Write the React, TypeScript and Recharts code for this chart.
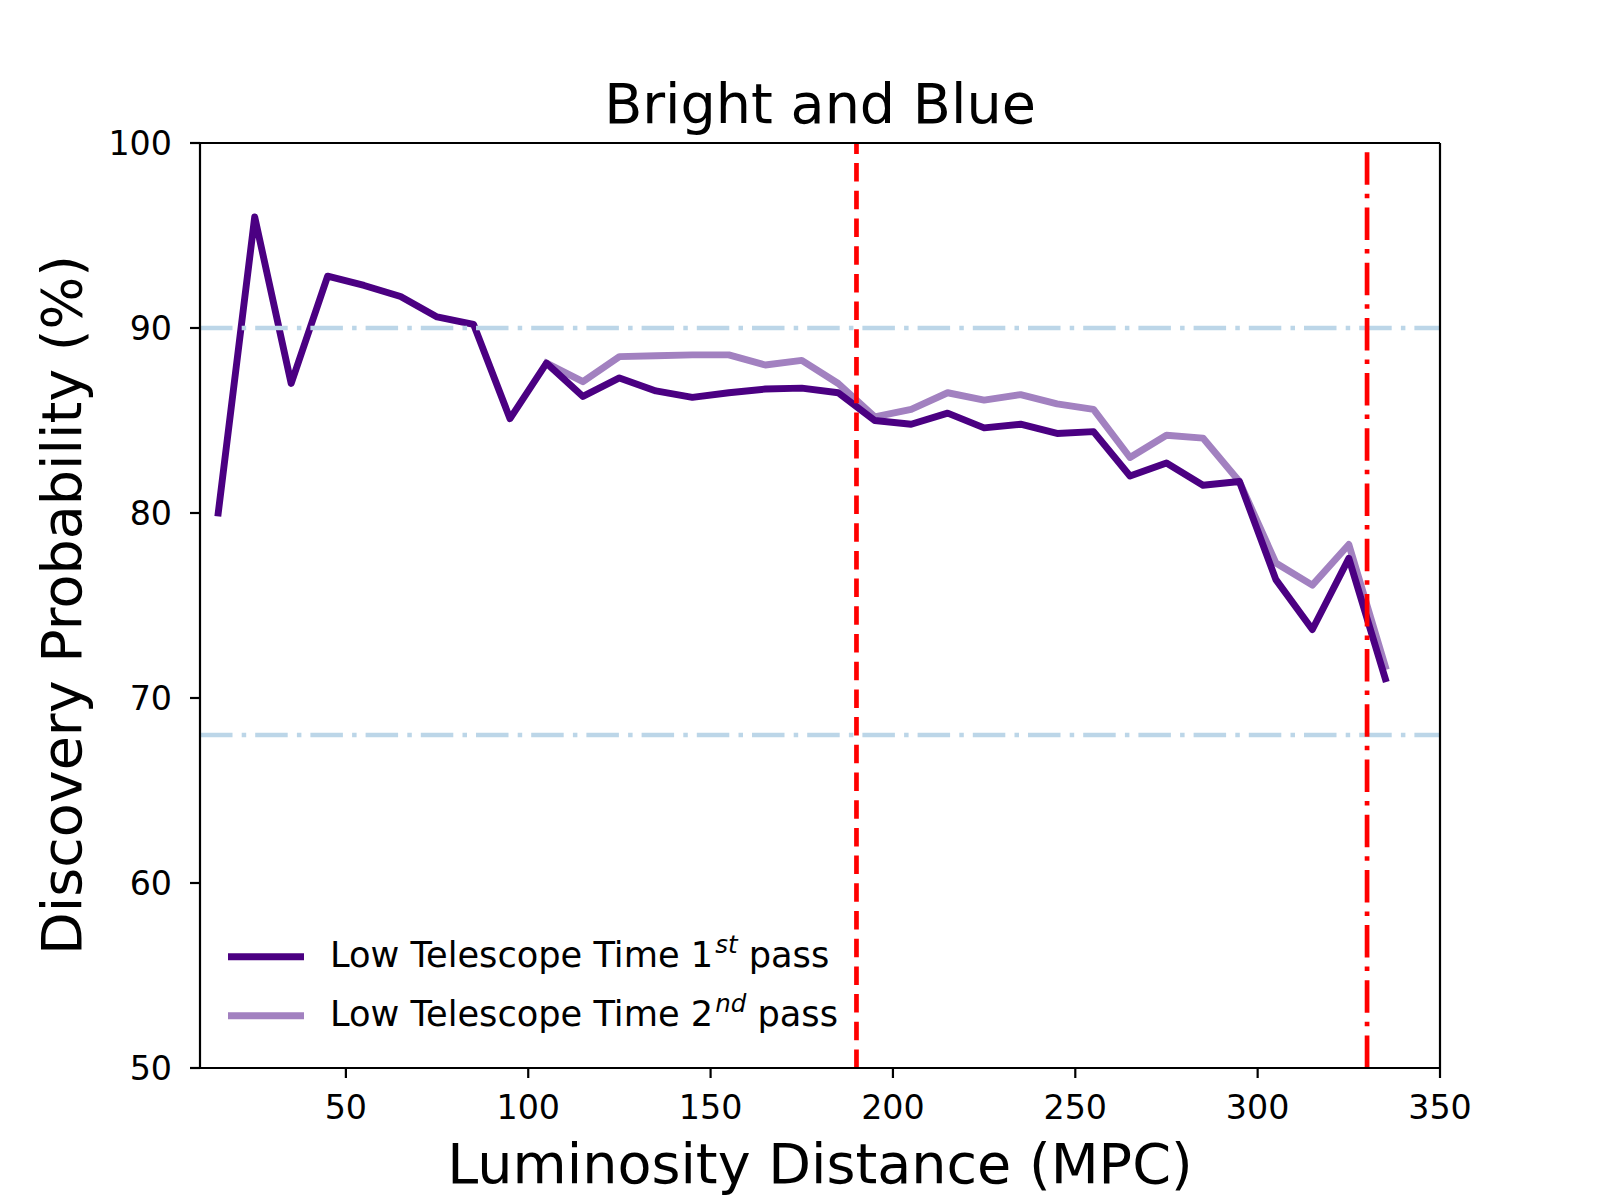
import React from 'react';
import { LineChart, Line, XAxis, YAxis, ReferenceLine } from 'recharts';

// Luminosity distance (MPC)
const distances = [15, 25, 35, 45, 55, 65, 75, 85, 95, 105, 115, 125, 135, 145, 155, 165, 175, 185, 195, 205, 215, 225, 235, 245, 255, 265, 275, 285, 295, 305, 315, 325, 335];
// Low Telescope Time 1st pass (%)
const firstPass = [80.0, 96.0, 87.0, 92.8, 92.3, 91.7, 90.6, 90.2, 85.1, 88.1, 86.3, 87.3, 86.6, 86.25, 86.5, 86.7, 86.75, 86.5, 85.0, 84.8, 85.4, 84.6, 84.8, 84.3, 84.4, 82.0, 82.7, 81.5, 81.7, 76.4, 73.7, 77.55, 71.05];
// Low Telescope Time 2nd pass (%)
const secondPass = [null, null, null, null, null, null, null, null, null, 88.1, 87.1, 88.45, 88.5, 88.55, 88.55, 88.0, 88.25, 87.0, 85.2, 85.6, 86.5, 86.1, 86.4, 85.9, 85.6, 83.0, 84.2, 84.05, 81.7, 77.3, 76.1, 78.3, 71.7];

const xTicks = [50, 100, 150, 200, 250, 300, 350];
const yTicks = [50, 60, 70, 80, 90, 100];
const xDomain = [10, 350];
const yDomain = [50, 100];
const horizontalRefs = [90, 68];
const dashedVertical = 190;
const dashDotVertical = 330;

const titleText = 'Bright and Blue';
const xLabelText = 'Luminosity Distance (MPC)';
const yLabelText = 'Discovery Probability (%)';
const legendNames = ['Low Telescope Time 1', 'Low Telescope Time 2'];
const legendSups = ['st', 'nd'];
const legendColors = ['#4b0082', '#a281c0'];

const data = distances.map((d, i) => ({ d, first: firstPass[i], second: secondPass[i] }));

const FONT = '"DejaVu Sans", Verdana, sans-serif';
const TICK_FONT = 33.3;
const LEGEND_FONT = 35.2;
const BIG_FONT = 55.6;

export default function App() {
  return (
    <div style={{ position: 'absolute', left: 0, top: 0, width: 1600, height: 1200, background: '#fff' }}>
      <LineChart
        width={1600}
        height={1200}
        data={data}
        margin={{ top: 143, right: 160, bottom: 72, left: 100 }}
      >
        <XAxis
          dataKey="d"
          type="number"
          domain={xDomain}
          ticks={xTicks}
          allowDataOverflow
          height={60}
          tickSize={10}
          tickMargin={17}
          tick={{ fontSize: TICK_FONT, fill: '#000', fontFamily: FONT }}
          axisLine={{ stroke: '#000', strokeWidth: 2.2 }}
          tickLine={{ stroke: '#000', strokeWidth: 2.2 }}
        />
        <YAxis
          type="number"
          domain={yDomain}
          ticks={yTicks}
          allowDataOverflow
          width={100}
          tickSize={10}
          tickMargin={18}
          tick={{ fontSize: TICK_FONT, fill: '#000', fontFamily: FONT }}
          axisLine={{ stroke: '#000', strokeWidth: 2.2 }}
          tickLine={{ stroke: '#000', strokeWidth: 2.2 }}
        />
        <Line
          type="linear"
          dataKey="second"
          stroke={legendColors[1]}
          strokeWidth={6.9}
          strokeLinejoin="round"
          strokeLinecap="square"
          dot={false}
          activeDot={false}
          isAnimationActive={false}
        />
        <Line
          type="linear"
          dataKey="first"
          stroke={legendColors[0]}
          strokeWidth={6.9}
          strokeLinejoin="round"
          strokeLinecap="square"
          dot={false}
          activeDot={false}
          isAnimationActive={false}
        />
        {horizontalRefs.map((v) => (
          <ReferenceLine
            key={v}
            y={v}
            stroke="#bcd6e8"
            strokeWidth={4.7}
            strokeDasharray="32.5 9.2 4.5 9"
          />
        ))}
        <ReferenceLine x={dashedVertical} stroke="#ff0000" strokeWidth={4.7} strokeDasharray="18.5 9.2" />
        <ReferenceLine x={dashDotVertical} stroke="#ff0000" strokeWidth={4.7} strokeDasharray="32.5 9.2 4.5 9" />
        <ReferenceLine y={yDomain[1]} stroke="#000" strokeWidth={2.2} />
        <ReferenceLine x={xDomain[1]} stroke="#000" strokeWidth={2.2} />
      </LineChart>
      <svg
        width={1600}
        height={1200}
        style={{ position: 'absolute', left: 0, top: 0, pointerEvents: 'none' }}
      >
        <text x={820} y={123} textAnchor="middle" fontSize={BIG_FONT} fontFamily={FONT} fill="#000">
          {titleText}
        </text>
        <text x={820} y={1183} textAnchor="middle" fontSize={BIG_FONT} fontFamily={FONT} fill="#000">
          {xLabelText}
        </text>
        <text
          transform="translate(81,605) rotate(-90)"
          textAnchor="middle"
          fontSize={BIG_FONT}
          fontFamily={FONT}
          fill="#000"
        >
          {yLabelText}
        </text>
        {legendNames.map((name, i) => {
          const ly = 956.7 + i * 59;
          return (
            <g key={name}>
              <line x1={228} x2={304} y1={ly} y2={ly} stroke={legendColors[i]} strokeWidth={6.9} />
              <text x={330} y={ly + 10.5} fontSize={LEGEND_FONT} fontFamily={FONT} fill="#000">
                {name}
                <tspan fontSize={24.5} fontStyle="italic" dx={2} dy={-14}>{legendSups[i]}</tspan>
                <tspan dy={14}>{' pass'}</tspan>
              </text>
            </g>
          );
        })}
      </svg>
    </div>
  );
}
